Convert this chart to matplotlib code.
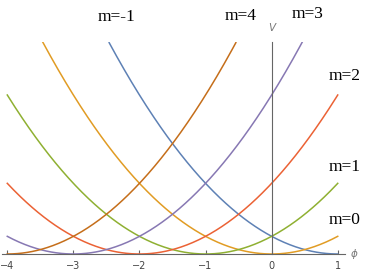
import numpy as np
import matplotlib
matplotlib.use("Agg")
import matplotlib.pyplot as plt

# parabola minima V = (phi - c)^2, Mathematica default colour order
centers = [1, 0, -1, -2, -3, -4]
colors = ["#5E81B5", "#E19C24", "#8FB032", "#EB6235", "#8778B3", "#C56E1A"]
xticks = [-4, -3, -2, -1, 0, 1]
labels = ["m=-1", "m=4", "m=3", "m=2", "m=1", "m=0"]
label_pos = [(-2.34, 13.41), (-0.47, 13.47), (0.55, 13.58),
             (1.10, 10.07), (1.11, 4.92), (1.11, 1.92)]

fig = plt.figure(figsize=(3.72, 2.75), dpi=100)
ax = fig.add_axes([2 / 372, 21 / 275, 343 / 372, 212 / 275])

phi = np.linspace(-4, 1, 400)
for c, col in zip(centers, colors):
    v = (phi - c) ** 2
    v = np.where(v <= 12, v, np.nan)
    ax.plot(phi, v, color=col, lw=1.1)

ax.set_xlim(-4.08, 1.11)
ax.set_ylim(0, 12)

axcol = "#666666"
for s in ["top", "right"]:
    ax.spines[s].set_visible(False)
ax.spines["left"].set_position(("data", 0))
ax.spines["left"].set_color(axcol)
ax.spines["bottom"].set_color(axcol)
ax.spines["left"].set_linewidth(0.8)
ax.spines["bottom"].set_linewidth(0.8)
ax.set_yticks([])
ax.set_xticks(xticks)
ax.set_xticklabels(["\u2212%d" % -t if t < 0 else str(t) for t in xticks])
ax.tick_params(axis="x", direction="in", length=3, color=axcol,
               labelsize=7, labelcolor="#444444", pad=5)

ax.text(0, 12.8, "V", color="#777777", fontsize=7.5, style="italic",
        ha="center", va="center")
ax.text(1.245, 0, "\u03d5", color="#777777", fontsize=7.5, style="italic",
        ha="center", va="center", clip_on=False)

for lab, (x, y) in zip(labels, label_pos):
    ax.text(x, y, lab, fontsize=12.5, family="Liberation Serif",
            ha="center", va="center", clip_on=False)

fig.savefig("out.png", dpi=100)
